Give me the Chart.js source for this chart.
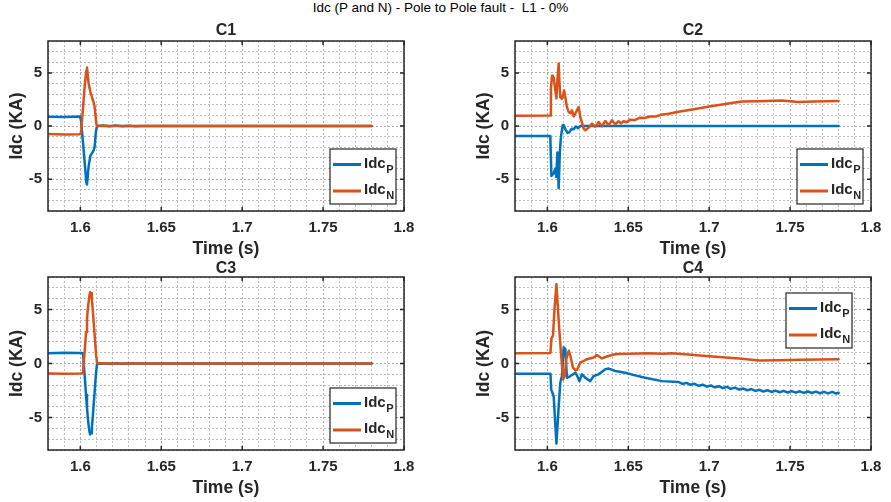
<!DOCTYPE html>
<html>
<head>
<meta charset="utf-8">
<title>Idc (P and N) - Pole to Pole fault</title>
<script src="https://cdn.jsdelivr.net/npm/chart.js@4.4.0/dist/chart.umd.min.js"></script>
<style>
  html, body { margin: 0; padding: 0; background: #fff; }
  #fig { position: relative; width: 891px; height: 502px; overflow: hidden; background: #fff; }
  #fig canvas { position: absolute; left: 0; top: 0; }
  #suptitle {
    position: absolute; left: 0; top: 0; width: 881px; height: 30px; line-height: 30px;
    text-align: center; white-space: pre; color: #000;
    font: 13.5px "Liberation Sans", Arial, Helvetica, sans-serif;
  }
</style>
</head>
<body>
<div id="fig">
  <div id="suptitle">Idc (P and N) - Pole to Pole fault -  L1 - 0%</div>
  <canvas id="c1" width="891" height="502"></canvas>
  <canvas id="c2" width="891" height="502"></canvas>
  <canvas id="c3" width="891" height="502"></canvas>
  <canvas id="c4" width="891" height="502"></canvas>
</div>
<script>
// ---- axis ticks ----
const xGridValues = [1.58, 1.59, 1.6, 1.61, 1.62, 1.63, 1.64, 1.65, 1.66, 1.67, 1.68, 1.69, 1.7,
                     1.71, 1.72, 1.73, 1.74, 1.75, 1.76, 1.77, 1.78, 1.79, 1.8];
const xTickValues = [1.6, 1.65, 1.7, 1.75, 1.8];
const xTickLabels = ['1.6', '1.65', '1.7', '1.75', '1.8'];
const yGridValues = [-8, -7, -6, -5, -4, -3, -2, -1, 0, 1, 2, 3, 4, 5, 6, 7, 8];
const yTickValues = [-5, 0, 5];
const yTickLabels = ['-5', '0', '5'];

// ---- series names ----
const seriesBase = 'Idc';
const seriesSubs = ['P', 'N'];
const panelTitles = ['C1', 'C2', 'C3', 'C4'];

// ---- C1 (time in s, current in kA) ----
const c1Time = [1.58, 1.59, 1.5998, 1.6004, 1.6017, 1.6027, 1.6037, 1.6041, 1.6051, 1.6062, 1.6072, 1.6082,
                1.6088, 1.6095, 1.6099, 1.6103, 1.614, 1.618, 1.622, 1.626, 1.63, 1.634, 1.638, 1.78];
const c1IdcP = [0.88, 0.84, 0.9, 0.5, -1.65, -3.5, -5.3, -5.5, -3.8, -2.8, -2.55, -2.3,
                -2.0, -0.7, -0.3, 0.0, 0.04, -0.03, 0.04, -0.02, 0.03, -0.02, 0.0, 0.0];
const c1IdcN = [-0.75, -0.8, -0.78, -0.6, 1.8, 3.8, 5.2, 5.5, 4.0, 3.2, 2.7, 2.25,
                1.8, 0.8, 0.2, 0.0, 0, 0, 0, 0, 0, 0, 0, 0];

// ---- C2 ----
const c2TimeP = [1.58, 1.6018, 1.6025, 1.6039, 1.6049, 1.6055, 1.6062, 1.607, 1.6077, 1.6084,
                 1.6094, 1.6101, 1.6111, 1.6125, 1.6135, 1.615, 1.6163, 1.6175, 1.619, 1.6204, 1.78];
const c2IdcP = [-0.93, -0.93, -4.7, -4.45, -4.0, -4.8, -2.5, -5.85, -2.5, -1.0,
                0.05, 0.1, -0.3, -0.65, -0.6, -0.25, -0.3, -0.05, -0.2, 0.0, 0.0];
const c2TimeN = [1.58, 1.6018, 1.6022, 1.6029, 1.6034, 1.6039, 1.6049, 1.6056, 1.6062, 1.607,
                 1.6075, 1.608, 1.609, 1.6104, 1.6121, 1.6132, 1.6142, 1.6152, 1.6163, 1.6183,
                 1.6193, 1.6204, 1.6224, 1.6235, 1.6255, 1.6276, 1.6296, 1.6317, 1.6337, 1.6358,
                 1.6379, 1.6399, 1.642, 1.644, 1.6455, 1.6471, 1.649, 1.6512, 1.654, 1.6574,
                 1.66, 1.6636, 1.667, 1.67, 1.675, 1.681, 1.6914, 1.70, 1.712, 1.72,
                 1.73, 1.745, 1.75, 1.755, 1.765, 1.78];
const c2IdcN = [0.97, 0.98, 3.5, 4.74, 4.5, 4.58, 3.4, 2.6, 4.3, 5.89,
                4.0, 2.71, 2.56, 3.34, 1.78, 1.31, 1.2, 1.47, 0.91, 1.47,
                1.78, 0.84, -0.25, -0.4, -0.15, 0.22, -0.07, 0.38, -0.03, 0.47,
                0.07, 0.53, 0.16, 0.45, 0.25, 0.45, 0.35, 0.6, 0.55, 0.78,
                0.75, 0.9, 0.9, 1.05, 1.15, 1.35, 1.6, 1.83, 2.12, 2.3,
                2.33, 2.4, 2.32, 2.25, 2.3, 2.35];

// ---- C3 ----
const c3Time = [1.58, 1.59, 1.6, 1.6016, 1.6023, 1.6029, 1.6035, 1.6041, 1.6046, 1.6051, 1.6056, 1.6061,
                1.6066, 1.6071, 1.6077, 1.6082, 1.6088, 1.6093, 1.6098, 1.6103, 1.614, 1.618, 1.622,
                1.626, 1.63, 1.634, 1.78];
const c3IdcP = [0.95, 1.0, 0.98, 0.95, -0.4, -1.6, -2.9, -4.1, -5.0, -5.7, -6.3, -6.55,
                -6.45, -5.9, -4.9, -3.8, -2.7, -1.6, -0.7, -0.05, 0.03, -0.02, 0.03,
                -0.02, 0.02, 0, 0];
const c3IdcN = [-0.92, -0.95, -0.93, -0.9, 0.4, 1.6, 2.9, 4.15, 5.0, 5.7, 6.3, 6.6,
                6.5, 5.9, 4.9, 3.85, 2.7, 1.65, 0.7, 0.05, 0, 0, 0,
                0, 0, 0, 0];

// ---- C4 (Idc_P carries a small ripple once it settles) ----
const c4TimeP = [1.58, 1.6019, 1.6024, 1.6039, 1.6056, 1.607, 1.608, 1.609, 1.6101, 1.6111,
                 1.6121, 1.6142, 1.6173, 1.6183, 1.6198, 1.6214, 1.6235, 1.6265, 1.6286, 1.6317,
                 1.6358, 1.6379, 1.642, 1.6481, 1.6543, 1.6605, 1.6708,
                 1.681, 1.6835, 1.686, 1.6885, 1.691, 1.6935, 1.696, 1.6985, 1.701, 1.7035,
                 1.706, 1.7085, 1.711, 1.7135, 1.716, 1.7185, 1.721, 1.7235, 1.726, 1.7285,
                 1.731, 1.7335, 1.736, 1.7385, 1.741, 1.7435, 1.746, 1.7485, 1.751, 1.7535,
                 1.756, 1.7585, 1.761, 1.7635, 1.766, 1.7685, 1.771, 1.7735, 1.776, 1.7785, 1.78];
const c4IdcP = [-0.94, -0.94, -2.41, -3.03, -7.41, -3.97, -1.78, -1.16, 1.5, 1.34,
                -1.32, -1.16, -0.85, -1.1, -1.63, -1.0, -1.32, -1.63, -1.16, -1.0,
                -0.53, -0.47, -0.69, -0.85, -1.1, -1.32, -1.63,
                -1.70, -1.89, -1.79, -1.97, -1.88, -2.06, -1.96, -2.14, -2.03, -2.20,
                -2.10, -2.27, -2.16, -2.34, -2.23, -2.41, -2.31, -2.48, -2.37, -2.54,
                -2.43, -2.59, -2.47, -2.63, -2.51, -2.66, -2.53, -2.68, -2.55, -2.70,
                -2.57, -2.72, -2.59, -2.73, -2.60, -2.75, -2.62, -2.76, -2.63, -2.78, -2.71];
const c4TimeN = [1.58, 1.6019, 1.6025, 1.6035, 1.6043, 1.6056, 1.6064, 1.6072, 1.6084, 1.6097,
                 1.6107, 1.6117, 1.6132, 1.6142, 1.6158, 1.6173, 1.6183, 1.6204, 1.6245, 1.6286,
                 1.6307, 1.6337, 1.6368, 1.6399, 1.643, 1.6512, 1.6615, 1.6718, 1.677, 1.685,
                 1.70, 1.7185, 1.731, 1.7432, 1.7556, 1.78];
const c4IdcN = [0.95, 0.98, 2.3, 2.6, 4.8, 7.34, 5.4, 3.5, 1.0, -1.47,
                -1.16, 0.4, 1.18, 0.72, -0.38, -0.6, -0.6, 0.09, 0.4, 0.56,
                0.78, 0.47, 0.65, 0.78, 0.87, 0.9, 0.95, 0.9, 0.94, 0.85,
                0.66, 0.47, 0.28, 0.31, 0.34, 0.4];

// ---- styling ----
const BLUE = '#0072BD';
const ORANGE = '#D95319';
const AXIS = '#262626';
const FONT = '"Liberation Sans", Arial, Helvetica, sans-serif';
const GRID_MAJOR = '#ababab';
const GRID_MINOR = '#bcbcbc';
const TICK_LEN = 4;

function toPoints(t, v) {
  return t.map((tt, i) => ({ x: tt, y: v[i] }));
}

// Frame, inward tick marks, panel title and the legend with subscripts.
const axesDecor = {
  id: 'axesDecor',
  afterDraw(chart, args, opts) {
    const { ctx, chartArea: a } = chart;
    const xs = chart.scales.x, ys = chart.scales.y;
    ctx.save();
    ctx.strokeStyle = AXIS;
    ctx.lineWidth = 1.5;
    ctx.beginPath();
    xTickValues.forEach(v => {
      const px = xs.getPixelForValue(v);
      ctx.moveTo(px, a.bottom); ctx.lineTo(px, a.bottom - TICK_LEN);
      ctx.moveTo(px, a.top); ctx.lineTo(px, a.top + TICK_LEN);
    });
    yTickValues.forEach(v => {
      const py = ys.getPixelForValue(v);
      ctx.moveTo(a.left, py); ctx.lineTo(a.left + TICK_LEN, py);
      ctx.moveTo(a.right, py); ctx.lineTo(a.right - TICK_LEN, py);
    });
    ctx.stroke();
    ctx.strokeRect(a.left, a.top, a.right - a.left, a.bottom - a.top);

    // panel title
    ctx.fillStyle = AXIS;
    ctx.font = 'bold 16px ' + FONT;
    ctx.textAlign = 'center';
    ctx.textBaseline = 'alphabetic';
    ctx.fillText(opts.title, (a.left + a.right) / 2, a.top - opts.titleGap);

    // legend
    const w = 66, h = 55;
    const L = a.right - opts.legend.right - w;
    const T = opts.legend.top != null ? a.top + opts.legend.top : a.bottom - opts.legend.bottom - h;
    ctx.fillStyle = '#fff';
    ctx.fillRect(L, T, w, h);
    ctx.lineWidth = 1.2;
    ctx.strokeStyle = AXIS;
    ctx.strokeRect(L, T, w, h);
    opts.entries.forEach((e, i) => {
      const yy = T + 15.5 + i * 26.5;
      ctx.strokeStyle = e.color;
      ctx.lineWidth = 3;
      ctx.beginPath();
      ctx.moveTo(L + 3, yy); ctx.lineTo(L + 31, yy);
      ctx.stroke();
      ctx.fillStyle = AXIS;
      ctx.textAlign = 'left';
      ctx.textBaseline = 'middle';
      ctx.font = 'bold 15px ' + FONT;
      ctx.fillText(seriesBase, L + 34, yy - 1);
      const bw = ctx.measureText(seriesBase).width;
      ctx.font = 'bold 11px ' + FONT;
      ctx.fillText(e.sub, L + 34 + bw + 0.5, yy + 5);
    });
    ctx.restore();
  }
};

function tickText(values, labels) {
  return v => {
    const i = values.indexOf(v);
    return i >= 0 ? labels[i] : '';
  };
}

function makePanel(id, idx, tP, p, tN, n, pad, titleGap, legend) {
  const tickFont = { family: FONT, size: 15, weight: 'bold' };
  const titleFont = { family: FONT, size: 17.5, weight: 'bold' };
  return new Chart(document.getElementById(id), {
    type: 'line',
    data: {
      datasets: [
        { label: seriesBase + '_' + seriesSubs[0], data: toPoints(tP, p), borderColor: BLUE, order: 2 },
        { label: seriesBase + '_' + seriesSubs[1], data: toPoints(tN, n), borderColor: ORANGE, order: 1 }
      ]
    },
    options: {
      responsive: false,
      animation: false,
      events: [],
      layout: { padding: pad },
      elements: {
        point: { radius: 0 },
        line: { tension: 0, borderWidth: 2.5, borderJoinStyle: 'round', borderCapStyle: 'round', fill: false }
      },
      plugins: {
        legend: { display: false },
        tooltip: { enabled: false },
        title: { display: false },
        axesDecor: {
          title: panelTitles[idx],
          titleGap: titleGap,
          legend: legend,
          entries: [{ sub: seriesSubs[0], color: BLUE }, { sub: seriesSubs[1], color: ORANGE }]
        }
      },
      scales: {
        x: {
          type: 'linear',
          min: 1.58, max: 1.8,
          afterBuildTicks: s => { s.ticks = xGridValues.map(v => ({ value: v })); },
          afterFit: s => { s.height = 50; },
          ticks: { autoSkip: false, maxRotation: 0, padding: 8, color: AXIS, font: tickFont,
                   callback: tickText(xTickValues, xTickLabels) },
          grid: { drawTicks: false, lineWidth: 1,
                  color: c => xTickValues.includes(c.tick && c.tick.value) ? GRID_MAJOR : GRID_MINOR },
          border: { display: false, dash: [2, 2] },
          title: { display: true, text: 'Time (s)', color: AXIS, font: titleFont, padding: { top: 0, bottom: 1.5 } }
        },
        y: {
          type: 'linear',
          min: -8, max: 8,
          afterBuildTicks: s => { s.ticks = yGridValues.map(v => ({ value: v })); },
          afterFit: s => { s.width = 48; },
          ticks: { autoSkip: false, padding: 6, color: AXIS, font: tickFont,
                   callback: tickText(yTickValues, yTickLabels) },
          grid: { drawTicks: false, lineWidth: 1,
                  color: c => yTickValues.includes(c.tick && c.tick.value) ? GRID_MAJOR : GRID_MINOR },
          border: { display: false, dash: [2, 2] },
          title: { display: true, text: 'Idc (KA)', color: AXIS, font: titleFont, padding: { top: 7, bottom: 0 } }
        }
      }
    },
    plugins: [axesDecor]
  });
}

makePanel('c1', 0, c1Time, c1IdcP, c1Time, c1IdcN,
          { left: 0, top: 41, right: 487, bottom: 241 }, 6, { right: 8, bottom: 7 });
makePanel('c2', 1, c2TimeP, c2IdcP, c2TimeN, c2IdcN,
          { left: 467, top: 41, right: 20, bottom: 241 }, 6, { right: 8, bottom: 7 });
makePanel('c3', 2, c3Time, c3IdcP, c3Time, c3IdcN,
          { left: 0, top: 277, right: 487, bottom: 2 }, 4, { right: 8, bottom: 7 });
makePanel('c4', 3, c4TimeP, c4IdcP, c4TimeN, c4IdcN,
          { left: 467, top: 277, right: 20, bottom: 2 }, 4, { right: 19, top: 16 });
</script>
</body>
</html>
